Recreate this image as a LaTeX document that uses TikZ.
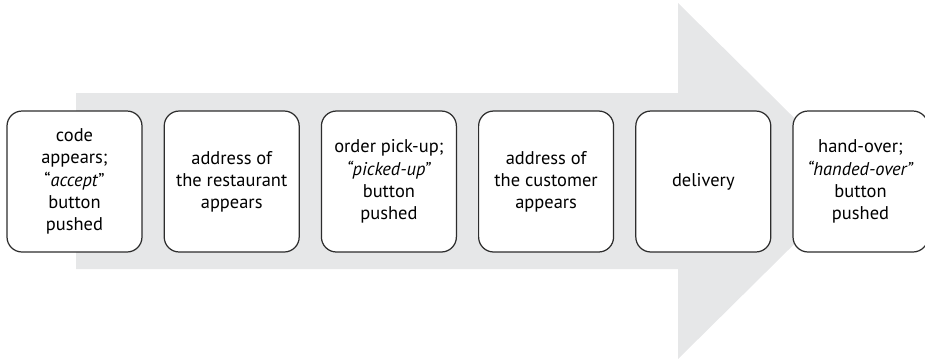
\documentclass[tikz,border=0pt]{standalone}
\usepackage{fontspec}
\setmainfont{PT Sans}
\usetikzlibrary{positioning}
\definecolor{flowGrey}{RGB}{230, 231, 232}
\definecolor{flowEdge}{RGB}{45, 45, 45}

\begin{document}
\begin{tikzpicture}[
  x=0.02cm, y=-0.02cm,
  step box/.style={
    draw=flowEdge,
    line width=0.7pt,
    fill=white,
    rounded corners=0.3cm,
    minimum width=2.7cm,
    minimum height=2.82cm,
    align=center,
    font=\fontsize{10.5}{12.6}\selectfont
  }
]
  \useasboundingbox (0,0) rectangle (925,360);
  % big grey arrow behind the steps
  \fill[flowGrey] (76,93) -- (678,93) -- (678,3) -- (858,181)
    -- (678,359) -- (678,269) -- (76,269) -- cycle;
  \node[step box] (accept) at (74.5,181.5) {code\\appears;\\``\textit{accept}''\\button\\pushed};
  \node[step box,right=0.42cm of accept] (restaurant) {address of\\the restaurant\\appears};
  \node[step box,right=0.42cm of restaurant] (pickup) {order pick-up;\\\textit{``picked-up''}\\button\\pushed};
  \node[step box,right=0.42cm of pickup] (customer) {address of\\the customer\\appears};
  \node[step box,right=0.42cm of customer] (delivery) {delivery};
  \node[step box,right=0.42cm of delivery] (handover) {hand-over;\\\textit{``handed-over''}\\button\\pushed};
\end{tikzpicture}
\end{document}
